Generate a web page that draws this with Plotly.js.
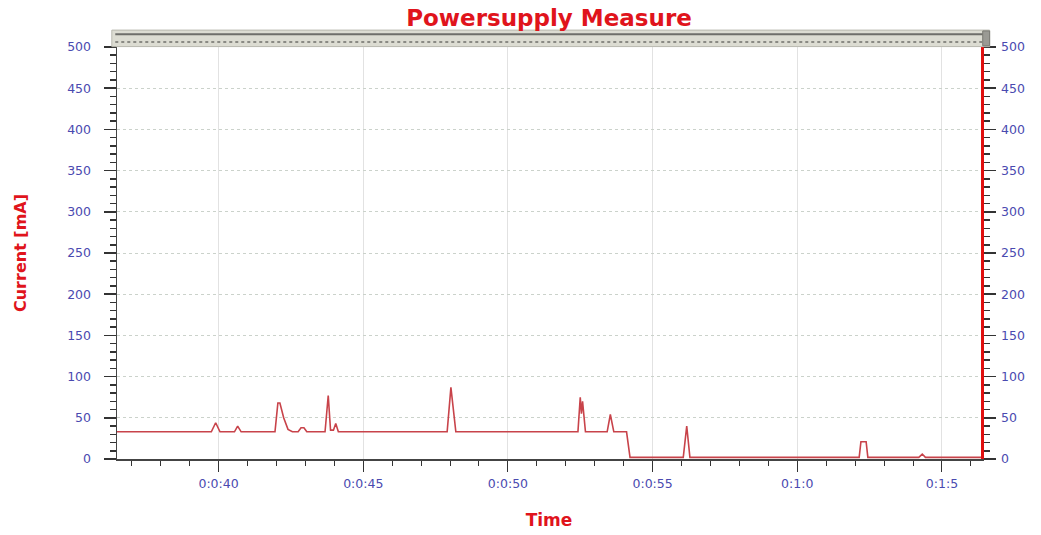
<!DOCTYPE html>
<html>
<head>
<meta charset="utf-8">
<script src="https://cdn.plot.ly/plotly-3.0.1.min.js"></script>
<style>html,body{margin:0;padding:0;background:#fff;}#chart{width:1041px;height:535px;}</style>
</head>
<body>
<div id="chart"></div>
<script>
// Time in seconds, current in mA
var timeSec = [36.49, 39.75, 39.9, 40.05, 40.55, 40.66, 40.78, 41.95, 42.05, 42.12, 42.25, 42.4, 42.55,
  42.75, 42.85, 42.95, 43.05, 43.68, 43.79, 43.87, 43.97, 44.05, 44.14, 47.9, 48.03, 48.2,
  52.42, 52.5, 52.54, 52.58, 52.68, 53.43, 53.54, 53.66, 54.1, 54.22, 56.06, 56.18, 56.29,
  62.14, 62.2, 62.38, 62.44, 64.2, 64.32, 64.43, 66.35];
var currentMA = [33, 33, 44, 33, 33, 40, 33, 33, 68, 68, 50, 36, 33,
  33, 38, 38, 33, 33, 77, 35, 35, 43, 33, 33, 87, 33,
  33, 75, 55, 70, 33, 33, 54, 33, 33, 2, 2, 40, 2,
  2, 21, 21, 2, 2, 6, 2, 2];
var xTickVals = [40, 45, 50, 55, 60, 65];
var xTickText = ["0:0:40", "0:0:45", "0:0:50", "0:0:55", "0:1:0", "0:1:5"];
var yTickVals = [0, 50, 100, 150, 200, 250, 300, 350, 400, 450, 500];

var tickFont = {family: "DejaVu Sans", size: 12.5, color: "#4a4ab0"};
var titleRed = "#e0141c";

var traces = [
  {x: timeSec, y: currentMA, type: "scatter", mode: "lines",
   line: {color: "#c8434a", width: 1.6}, showlegend: false, hoverinfo: "x+y"},
  {x: timeSec, y: currentMA, type: "scatter", mode: "lines", yaxis: "y2",
   line: {color: "rgba(0,0,0,0)", width: 0}, showlegend: false, hoverinfo: "skip"}
];

var layout = {
  width: 1041, height: 535,
  margin: {l: 117, r: 60, t: 47, b: 76},
  paper_bgcolor: "#ffffff", plot_bgcolor: "#ffffff",
  showlegend: false,
  title: {text: "Powersupply Measure", font: {family: "DejaVu Sans", size: 23, color: titleRed, weight: "bold"},
          xref: "paper", x: 0.5, xanchor: "center", yref: "container", y: 0.967, yanchor: "middle"},
  xaxis: {
    range: [36.49, 66.35], tickmode: "array", tickvals: xTickVals, ticktext: xTickText,
    ticks: "outside", ticklen: 11, tickwidth: 1, tickcolor: "#333",
    showline: true, linecolor: "#444", linewidth: 1.5,
    showgrid: true, gridcolor: "#e2e2e2", gridwidth: 1, zeroline: false,
    tickfont: tickFont, ticklabelstandoff: 1,
    minor: {tickmode: "linear", tick0: 0, dtick: 1, ticks: "outside", ticklen: 5, tickcolor: "#333", showgrid: false},
    title: {text: "Time", font: {family: "DejaVu Sans", size: 17, color: titleRed, weight: "bold"}, standoff: 24}
  },
  yaxis: {
    range: [0, 500], tickmode: "array", tickvals: yTickVals,
    ticks: "outside", ticklen: 12, tickwidth: 1.5, tickcolor: "#333",
    showline: true, linecolor: "#444", linewidth: 1.5,
    showgrid: true, gridcolor: "#cbd2cb", griddash: "dot", gridwidth: 1, zeroline: false,
    tickfont: tickFont, ticklabelstandoff: 10,
    minor: {tickmode: "linear", tick0: 0, dtick: 10, ticks: "outside", ticklen: 6, tickcolor: "#333", showgrid: false},
    title: {text: "Current [mA]", font: {family: "DejaVu Sans", size: 16, color: titleRed, weight: "bold"}, standoff: 36}
  },
  yaxis2: {
    range: [0, 500], overlaying: "y", side: "right", tickmode: "array", tickvals: yTickVals,
    ticks: "outside", ticklen: 12, tickwidth: 1.5, tickcolor: "#333",
    showline: true, linecolor: "#e01010", linewidth: 2.5,
    showgrid: false, zeroline: false,
    tickfont: tickFont, ticklabelstandoff: 3,
    minor: {tickmode: "linear", tick0: 0, dtick: 10, ticks: "outside", ticklen: 6, tickcolor: "#333", showgrid: false}
  },
  shapes: [
    {type: "rect", xref: "paper", yref: "paper", x0: -0.006, x1: 1.010, y0: 1.001, y1: 1.041,
     fillcolor: "#dcdcd2", line: {color: "#b8b8ae", width: 1}, layer: "above"},
    {type: "line", xref: "paper", yref: "paper", x0: -0.002, x1: 1.003, y0: 1.031, y1: 1.031,
     line: {color: "#6e6e6a", width: 2}},
    {type: "line", xref: "paper", yref: "paper", x0: -0.002, x1: 1.003, y0: 1.012, y1: 1.012,
     line: {color: "#8a8a84", width: 2, dash: "dot"}},
    {type: "rect", xref: "paper", yref: "paper", x0: 1.002, x1: 1.010, y0: 1.003, y1: 1.039,
     fillcolor: "#9a9a94", line: {color: "#7a7a74", width: 1}}
  ]
};

Plotly.newPlot("chart", traces, layout, {displayModeBar: false, staticPlot: true});
</script>
</body>
</html>
